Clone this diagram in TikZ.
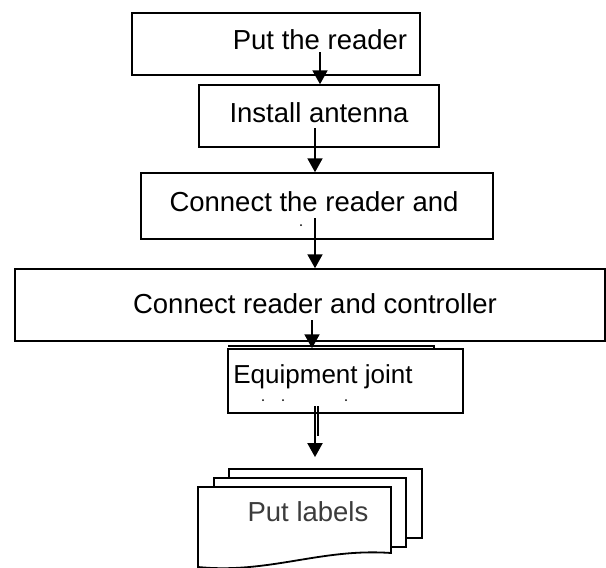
\documentclass[tikz,border=0pt]{standalone}
\usepackage{fontspec}
\setmainfont{Liberation Sans}
\usetikzlibrary{arrows.meta}
\definecolor{labelgray}{RGB}{60,60,60}

\begin{document}
\begin{tikzpicture}
[x=1pt,y=-1pt,
  boxdecorate/.style={shape=rectangle,draw,line width=1.5pt,inner sep=0pt},%
  textdecorate/.style={inner sep=0pt,font=\fontsize{27.5}{30}\selectfont},%
  pagedecorate/.style={draw,line width=1.8pt,fill=white},%
  linedecorate/.style={-{Triangle[width=15pt,length=14pt]},line width=2pt},%
  dotdecorate/.style={shape=circle,fill,inner sep=0pt,minimum size=2pt}]
\useasboundingbox (0,0) rectangle (606,568);
%%
%% process boxes
\foreach \nodename/\x/\y/\w/\h in {b1/276/44/288/62, b2/319/116/240/62,
  b3/317/206/352/66, b4/310/305/590/72, b5/345.5/381/235/64} {
  \node (\nodename) at (\x,\y) [boxdecorate,minimum width=\w pt,minimum height=\h pt] {};
}
%% sheet behind the last box
\draw[line width=1.5pt] (228,346) -- (434,346) -- (434,349);
%% texts
\foreach \nodename/\x/\y/\text in {t1/320/40/Put the reader, t2/319/113/Install antenna,
  t3/314/202/Connect the reader and, t4/315/304/Connect reader and controller} {
  \node (\nodename) at (\x,\y) [textdecorate] {\text};
}
\node (t5) at (323,377) [textdecorate,font=\fontsize{26}{28}\selectfont] {Equipment joint};
%% remains of the cut second lines
\foreach \nodename/\x/\y in {d1/301/225, d2/263/400, d3/283/400, d4/346/400} {
  \node (\nodename) at (\x,\y) [dotdecorate] {};
}
%%
%% document stack
\node (p3) at (325.5,503.5) [pagedecorate,minimum width=193pt,minimum height=69pt] {};
\node (p2) at (310,512.5) [pagedecorate,minimum width=192pt,minimum height=69pt] {};
\draw[pagedecorate] (198,487) -- (391,487) -- (391,553)
  .. controls (320,548) and (270,574) .. (198,567) -- cycle;
\node (t6) at (308,512) [textdecorate,text=labelgray] {Put labels};
%%
%% arrows
\foreach \nodename/\x/\y in {s1/320/52, s2/315/128, s3/315/218, s4/312/320, s5/315/406} {
  \coordinate (\nodename) at (\x,\y);
}
\path
\foreach \startnode/\endnode in {s1/b2, s2/b3, s3/b4, s4/b5} {
  (\startnode) edge[linedecorate] (\startnode |- \endnode.north)
};
\draw[linedecorate,shorten >=11pt] (s5) -- (s5 |- p3.north);
\draw[line width=1.2pt] ([xshift=3pt]s5) -- ([xshift=3pt,yshift=-30pt]s5);
\end{tikzpicture}
\end{document}
